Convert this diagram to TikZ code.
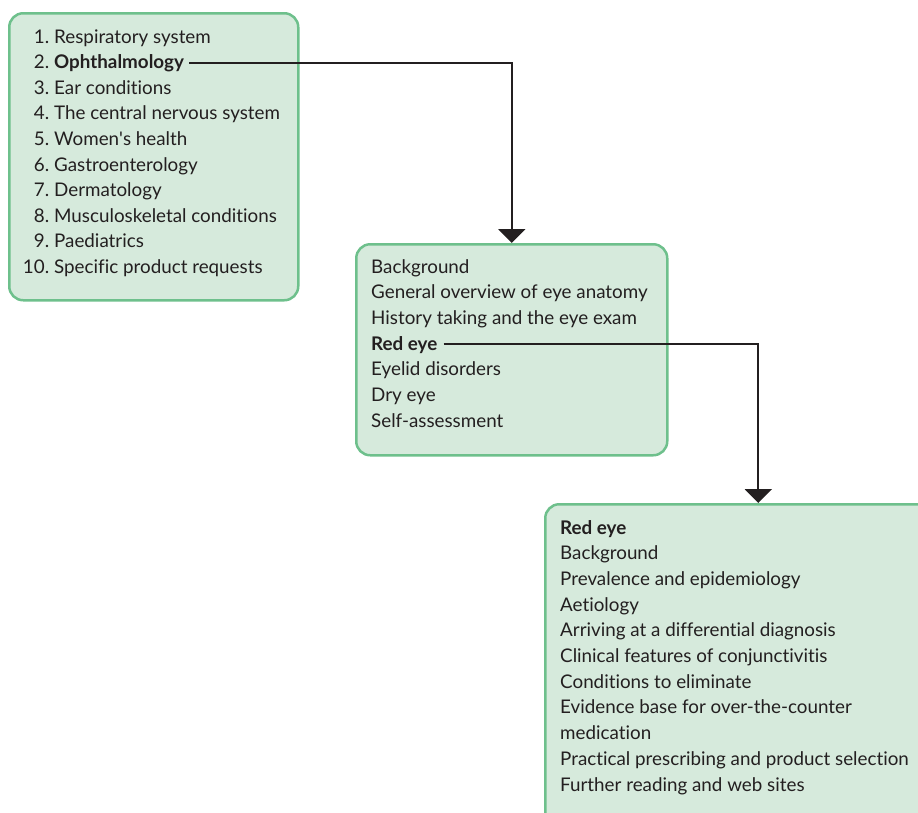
\documentclass[tikz,border=0pt]{standalone}
\usepackage{fontspec}
\setmainfont{Lato}[Ligatures={NoCommon,TeX}]
\usetikzlibrary{arrows.meta,calc}
\definecolor{boxfill}{RGB}{214,234,220}
\definecolor{boxline}{RGB}{110,192,140}
\definecolor{ink}{RGB}{35,31,32}
\begin{document}
\begin{tikzpicture}[x=1pt,y=-1pt,
  panel/.style={draw=boxline,fill=boxfill,line width=2.5pt,rounded corners=14pt,anchor=north west,inner sep=0pt},
  item/.style={anchor=base west,inner sep=0pt,font=\fontsize{18.8}{20}\selectfont,text=ink},
  conn/.style={draw=ink,line width=2.2pt,-{Triangle[width=27pt,length=14pt]}}]
\useasboundingbox (0,0) rectangle (918,812);
\clip (0,0) rectangle (918,812);
% panels
\node[panel,minimum width=289pt,minimum height=287pt] (box1) at (8,12) {};
\node[panel,minimum width=311pt,minimum height=211pt] (box2) at (355,243) {};
\node[panel,minimum width=426pt,minimum height=327pt] (box3) at (544,503) {};
% box 1 items
\newcommand{\nm}[1]{\makebox[22pt][r]{#1}\hspace{5pt}}
\node[item] (a1) at (27,43.0) {\nm{1.}Respiratory system};
\node[item] (a2) at (27,68.6) {\nm{2.}\textbf{Ophthalmology}};
\node[item] (a3) at (27,94.2) {\nm{3.}Ear conditions};
\node[item] (a4) at (27,119.8) {\nm{4.}The central nervous system};
\node[item] (a5) at (27,145.4) {\nm{5.}Women\textquotesingle s health};
\node[item] (a6) at (27,171.0) {\nm{6.}Gastroenterology};
\node[item] (a7) at (27,196.6) {\nm{7.}Dermatology};
\node[item] (a8) at (27,222.2) {\nm{8.}Musculoskeletal conditions};
\node[item] (a9) at (27,247.8) {\nm{9.}Paediatrics};
\node[item] (a10) at (27,273.4) {\nm{10.}Specific product requests};
% box 2 items
\node[item] (b1) at (371,273.0) {Background};
\node[item] (b2) at (371,298.7) {General overview of eye anatomy};
\node[item] (b3) at (371,324.4) {History taking and the eye exam};
\node[item] (b4) at (371,350.1) {\textbf{Red eye}};
\node[item] (b5) at (371,375.8) {Eyelid disorders};
\node[item] (b6) at (371,401.5) {Dry eye};
\node[item] (b7) at (371,427.2) {Self-assessment};
% box 3 items
\node[item] (c1) at (560,534.0) {\textbf{Red eye}};
\node[item] (c2) at (560,559.7) {Background};
\node[item] (c3) at (560,585.4) {Prevalence and epidemiology};
\node[item] (c4) at (560,611.1) {Aetiology};
\node[item] (c5) at (560,636.8) {Arriving at a differential diagnosis};
\node[item] (c6) at (560,662.5) {Clinical features of conjunctivitis};
\node[item] (c7) at (560,688.2) {Conditions to eliminate};
\node[item] (c8) at (560,713.9) {Evidence base for over-the-counter};
\node[item] (c9) at (560,739.6) {medication};
\node[item] (c10) at (560,765.3) {Practical prescribing and product selection};
\node[item] (c11) at (560,791.0) {Further reading and web sites};
% connectors
\coordinate (s1) at ($(a2.base east)+(5,-6)$);
\coordinate (s2) at ($(b4.base east)+(6,-6.5)$);
\draw[conn] (s1) -| (box2.north);
\draw[conn] (s2) -| (box3.north);
\end{tikzpicture}
\end{document}
